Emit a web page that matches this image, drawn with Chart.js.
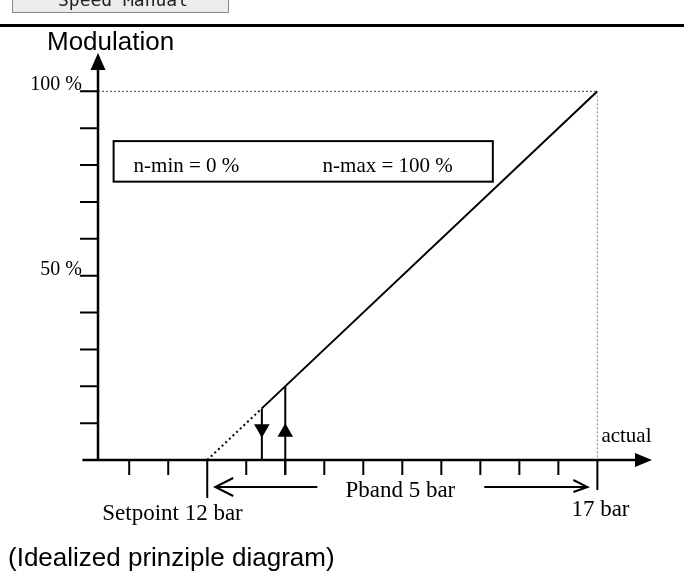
<!DOCTYPE html>
<html>
<head>
<meta charset="utf-8">
<title>Modulation</title>
<script src="https://cdn.jsdelivr.net/npm/chart.js@4/dist/chart.umd.min.js"></script>
<style>
  html, body { margin: 0; padding: 0; background: #fff; }
  canvas { display: block; }
</style>
</head>
<body>
<canvas id="diagram" width="684" height="574"></canvas>
<script>
'use strict';

// characteristic: actual pressure (bar) -> modulation (%)
var pressure   = [12, 12.7, 17];
var modulation = [0, 14, 100];

// hysteresis lines: switch off (down) and switch on (up)
var offX = [12.7, 12.7];
var offY = [14, 0];
var onX  = [13, 13];
var onY  = [-4, 20];
var headX = [12.7, 13];
var headY = [8.5, 7.5];

// dotted limits at 100 % and 17 bar
var topX = [10.6, 17];
var topY = [100, 100];
var endX = [17, 17];
var endY = [100, 0];

var xTicks = [11, 11.5, 12, 12.5, 13, 13.5, 14, 14.5, 15, 15.5, 16, 16.5, 17];
var yTicks = [10, 20, 30, 40, 50, 60, 70, 80, 90, 100];
var yTickLabels = ['', '', '', '', '50 %', '', '', '', '', '100 %'];

var setpoint = 12;
var pbandEnd = 17;

function pts(xs, ys) {
  return xs.map(function (x, i) { return { x: x, y: ys[i] }; });
}

var SERIF = '"Liberation Serif", "Times New Roman", serif';
var SANS = '"Liberation Sans", Arial, sans-serif';

var diagramPlugin = {
  id: 'diagram',
  afterDraw: function (chart) {
    var ctx = chart.ctx;
    var xs = chart.scales.x, ys = chart.scales.y;
    var X = function (v) { return xs.getPixelForValue(v); };
    var Y = function (v) { return ys.getPixelForValue(v); };
    var ax = X(xs.min), ay = Y(0);
    var top = chart.chartArea.top, right = chart.chartArea.right;

    ctx.save();
    ctx.fillStyle = '#000';
    ctx.strokeStyle = '#000';

    // button remains + separator
    ctx.fillStyle = '#ececec';
    ctx.fillRect(12, -4, 216, 17);
    ctx.strokeStyle = '#8a8a8a';
    ctx.lineWidth = 1;
    ctx.strokeRect(12.5, -4.5, 216, 17);
    ctx.fillStyle = '#222';
    ctx.font = '18px "DejaVu Sans Mono", monospace';
    ctx.textAlign = 'center';
    ctx.textBaseline = 'alphabetic';
    ctx.fillText('Speed Manual', 123, 6);
    ctx.fillStyle = '#000';
    ctx.fillRect(0, 24, 684, 3);

    ctx.textAlign = 'left';
    ctx.font = '26px ' + SANS;
    ctx.fillText('Modulation', 47, 50);

    // axes
    ctx.strokeStyle = '#000';
    ctx.lineWidth = 2.5;
    ctx.beginPath();
    ctx.moveTo(ax, ay);
    ctx.lineTo(ax, top + 14);
    ctx.moveTo(X(10.4), ay);
    ctx.lineTo(right - 14, ay);
    ctx.stroke();

    // arrow heads
    ctx.beginPath();
    ctx.moveTo(ax, top);
    ctx.lineTo(ax - 7.5, top + 17);
    ctx.lineTo(ax + 7.5, top + 17);
    ctx.closePath();
    ctx.moveTo(right, ay);
    ctx.lineTo(right - 17, ay - 7);
    ctx.lineTo(right - 17, ay + 7);
    ctx.closePath();
    ctx.fill();

    // y ticks
    ctx.lineWidth = 2;
    ctx.beginPath();
    yTicks.forEach(function (v) {
      ctx.moveTo(ax - 18, Y(v));
      ctx.lineTo(ax, Y(v));
    });
    ctx.stroke();
    ctx.font = '20px ' + SERIF;
    ctx.textAlign = 'right';
    yTicks.forEach(function (v, i) {
      if (yTickLabels[i]) ctx.fillText(yTickLabels[i], ax - 16, Y(v) - 1);
    });

    // x ticks
    ctx.beginPath();
    xTicks.forEach(function (v) {
      var len = v === setpoint ? 38 : (v === pbandEnd ? 30 : 15);
      ctx.moveTo(X(v), ay);
      ctx.lineTo(X(v), ay + len);
    });
    ctx.stroke();

    // n-min / n-max box
    var bx0 = X(10.8), bx1 = X(15.66), by0 = Y(86.5), by1 = Y(75.5);
    ctx.strokeRect(bx0, by0, bx1 - bx0, by1 - by0);
    ctx.textAlign = 'left';
    ctx.font = '21px ' + SERIF;
    ctx.fillText('n-min = 0 %', bx0 + 20, by1 - 10);
    ctx.fillText('n-max = 100 %', bx0 + 209, by1 - 10);

    ctx.fillText('actual', X(pbandEnd) + 4, ay - 18);

    // proportional band arrow
    var mid = (X(setpoint) + X(pbandEnd)) / 2;
    var py = ay + 27;
    ctx.lineWidth = 2;
    ctx.beginPath();
    ctx.moveTo(X(setpoint) + 8, py);
    ctx.lineTo(mid - 85, py);
    ctx.moveTo(X(setpoint) + 26, py - 9);
    ctx.lineTo(X(setpoint) + 8, py);
    ctx.lineTo(X(setpoint) + 26, py + 9);
    ctx.moveTo(mid + 82, py);
    ctx.lineTo(X(pbandEnd) - 10, py);
    ctx.moveTo(X(pbandEnd) - 24, py - 7);
    ctx.lineTo(X(pbandEnd) - 10, py);
    ctx.lineTo(X(pbandEnd) - 24, py + 5);
    ctx.stroke();

    ctx.font = '23px ' + SERIF;
    ctx.textAlign = 'center';
    ctx.fillText('Pband 5 bar', mid - 2, ay + 37);
    ctx.textAlign = 'left';
    ctx.fillText('Setpoint 12 bar', X(setpoint) - 105, ay + 60);
    ctx.fillText('17 bar', X(pbandEnd) - 26, ay + 56);

    ctx.font = '26px ' + SANS;
    ctx.fillText('(Idealized prinziple diagram)', 8, 566);
    ctx.restore();
  }
};

new Chart(document.getElementById('diagram'), {
  type: 'scatter',
  data: {
    datasets: [
      {
        data: pts(topX, topY),
        showLine: true,
        borderColor: '#444',
        borderWidth: 1,
        borderDash: [2, 2],
        pointRadius: 0
      },
      {
        data: pts(endX, endY),
        showLine: true,
        borderColor: '#888',
        borderWidth: 1,
        borderDash: [2, 2],
        pointRadius: 0
      },
      {
        data: pts(pressure, modulation),
        showLine: true,
        borderColor: '#000',
        borderWidth: 2,
        pointRadius: 0,
        segment: {
          borderDash: function (c) { return c.p0DataIndex === 0 ? [2, 3] : undefined; }
        }
      },
      {
        data: pts(offX, offY),
        showLine: true,
        borderColor: '#000',
        borderWidth: 2,
        pointRadius: 0
      },
      {
        data: pts(onX, onY),
        showLine: true,
        borderColor: '#000',
        borderWidth: 2,
        pointRadius: 0
      },
      {
        data: pts(headX, headY),
        showLine: false,
        pointStyle: 'triangle',
        pointRotation: [180, 0],
        pointRadius: 9,
        pointBorderWidth: 0,
        pointBackgroundColor: '#000'
      }
    ]
  },
  options: {
    responsive: false,
    animation: false,
    events: [],
    clip: false,
    layout: { padding: { left: 98, right: 32, top: 53, bottom: 114 } },
    scales: {
      x: { type: 'linear', min: 10.6, max: 17.7, display: false },
      y: { type: 'linear', min: 0, max: 110.4, display: false }
    },
    plugins: {
      legend: { display: false },
      tooltip: { enabled: false }
    }
  },
  plugins: [diagramPlugin]
});
</script>
</body>
</html>
